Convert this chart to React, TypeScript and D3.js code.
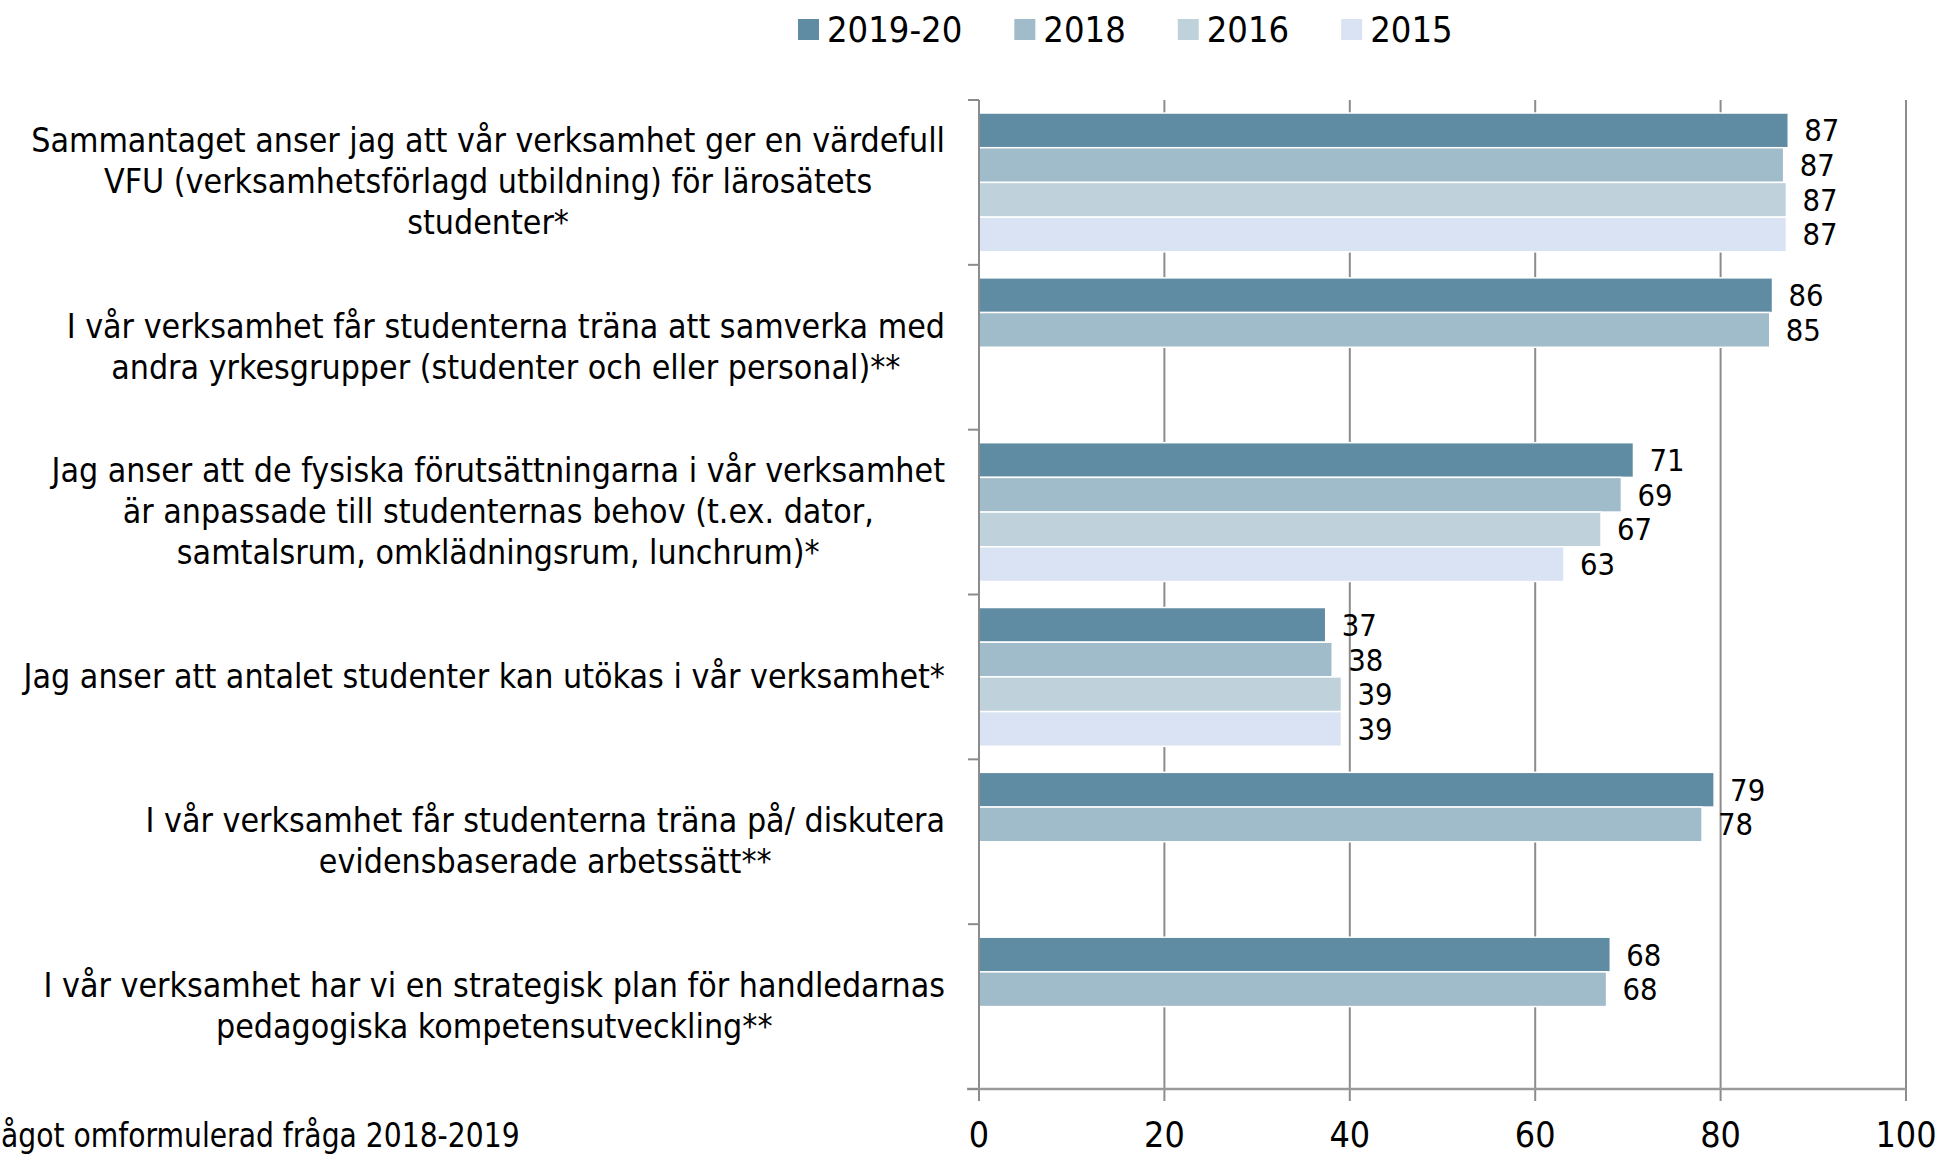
import { useEffect, useRef } from 'react';
import * as d3 from 'd3';

// frågor (en rad per element, som i originalet)
const categories: string[][] = [
  ['Sammantaget anser jag att vår verksamhet ger en värdefull', 'VFU (verksamhetsförlagd utbildning) för lärosätets', 'studenter*'],
  ['I vår verksamhet får studenterna träna att samverka med', 'andra yrkesgrupper (studenter och eller personal)**'],
  ['Jag anser att de fysiska förutsättningarna i vår verksamhet', 'är anpassade till studenternas behov (t.ex. dator,', 'samtalsrum, omklädningsrum, lunchrum)*'],
  ['Jag anser att antalet studenter kan utökas i vår verksamhet*'],
  ['I vår verksamhet får studenterna träna på/ diskutera', 'evidensbaserade arbetssätt**'],
  ['I vår verksamhet har vi en strategisk plan för handledarnas', 'pedagogiska kompetensutveckling**'],
];

const seriesNames = ['2019-20', '2018', '2016', '2015'];
const seriesColors = ['#5f8ba3', '#a0bbc9', '#bfd1db', '#dae3f3'];

const v2019 = [87.3, 85.6, 70.6, 37.4, 79.3, 68.1];
const v2018 = [86.8, 85.3, 69.3, 38.1, 78.0, 67.7];
const v2016 = [87.1, null, 67.1, 39.1, null, null];
const v2015 = [87.1, null, 63.1, 39.1, null, null];

const xTicks = [0, 20, 40, 60, 80, 100];
const footnote = 'ågot omformulerad fråga 2018-2019';

const W = 1941;
const H = 1155;
const FONT = '"DejaVu Sans", Verdana, sans-serif';
const SX = 0.89; // texten i originalet är smalare (Tahoma)

export default function App() {
  const ref = useRef<SVGSVGElement | null>(null);

  useEffect(() => {
    const svg = d3.select(ref.current);
    svg.selectAll('*').remove();

    const left = 979, right = 1906, top = 100, bottom = 1089;

    const x = d3.scaleLinear().domain([0, 100]).range([left, right]);
    const y = d3.scaleBand<number>().domain(d3.range(categories.length)).range([top, bottom]).padding(0);
    const inner = d3.scaleBand<number>().domain(d3.range(seriesNames.length))
      .range([0, y.bandwidth()]).paddingOuter(0.375).paddingInner(0);

    const allSeries = [v2019, v2018, v2016, v2015];

    const txt = (g: any, s: string, tx: number, ty: number, size: number, anchor = 'start', sx = SX) =>
      g.append('text')
        .attr('transform', `translate(${tx},${ty}) scale(${sx},1)`)
        .attr('text-anchor', anchor)
        .attr('font-family', FONT)
        .attr('font-size', size)
        .attr('fill', '#000')
        .text(s);

    // rutnät
    const grid = svg.append('g');
    xTicks.forEach(t => {
      grid.append('line')
        .attr('x1', x(t)).attr('x2', x(t))
        .attr('y1', top).attr('y2', bottom + 12)
        .attr('stroke', '#8c8c8c').attr('stroke-width', 2);
    });

    // staplar
    const bars = svg.append('g');
    allSeries.forEach((vals, si) => {
      vals.forEach((v, ci) => {
        if (v == null) return;
        const by = (y(ci) as number) + (inner(si) as number);
        bars.append('rect')
          .attr('x', x(0)).attr('y', by)
          .attr('width', x(v) - x(0))
          .attr('height', inner.bandwidth())
          .attr('fill', seriesColors[si])
          .attr('stroke', '#fff').attr('stroke-width', 1.5);
        txt(bars, String(Math.round(v)), x(v) + 16, by + inner.bandwidth() / 2 + 11, 31);
      });
    });

    // axlar
    svg.append('line')
      .attr('x1', left).attr('x2', left).attr('y1', top).attr('y2', bottom + 12)
      .attr('stroke', '#8c8c8c').attr('stroke-width', 2);
    svg.append('line')
      .attr('x1', left - 12).attr('x2', right).attr('y1', bottom).attr('y2', bottom)
      .attr('stroke', '#9a9a9a').attr('stroke-width', 2.5);
    d3.range(categories.length + 1).forEach(i => {
      const ty = i < categories.length ? (y(i) as number) : bottom;
      svg.append('line')
        .attr('x1', left - 11).attr('x2', left).attr('y1', ty).attr('y2', ty)
        .attr('stroke', '#8c8c8c').attr('stroke-width', 2);
    });
    xTicks.forEach(t => txt(svg, String(t), x(t), 1147, 36, 'middle'));

    // kategorietiketter: blocket högerställt, raderna centrerade
    const labelRight = 945;
    categories.forEach((lines, ci) => {
      const g = svg.append('g');
      const cy = (y(ci) as number) + y.bandwidth() / 2;
      const nodes = lines.map((l, li) =>
        txt(g, l, 0, cy + (li - (lines.length - 1) / 2) * 41 + 11, 34, 'middle'));
      const maxW = d3.max(nodes, (n: any) => (n.node() as SVGTextElement).getComputedTextLength() * SX) as number;
      const cx = labelRight - maxW / 2;
      nodes.forEach((n: any, li: number) =>
        n.attr('transform', `translate(${cx},${cy + (li - (lines.length - 1) / 2) * 41 + 11}) scale(${SX},1)`));
    });

    // legend
    const LSX = 0.9;
    let lx = 798;
    seriesNames.forEach((s, i) => {
      svg.append('rect').attr('x', lx).attr('y', 19).attr('width', 21).attr('height', 21)
        .attr('fill', seriesColors[i]);
      const t = txt(svg, s, lx + 29, 42, 36, 'start', LSX);
      const w = (t.node() as SVGTextElement).getComputedTextLength() * LSX;
      lx = lx + 29 + w + 52;
    });

    // fotnot
    txt(svg, footnote, 1, 1147, 34, 'start', 0.83);
  }, []);

  return (
    <div style={{ position: 'absolute', left: 0, top: 0 }}>
      <svg ref={ref} width={W} height={H} style={{ display: 'block', background: '#fff' }} />
    </div>
  );
}
